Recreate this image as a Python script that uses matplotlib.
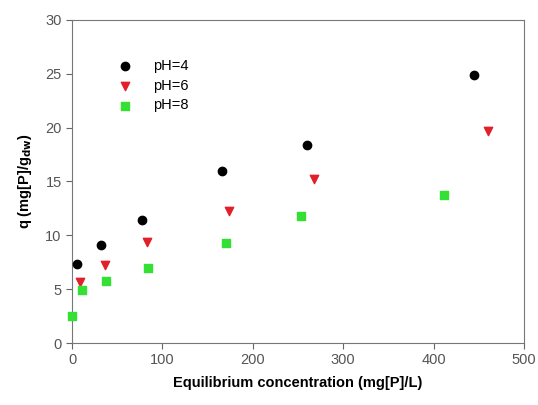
import matplotlib
matplotlib.use("Agg")
import matplotlib.pyplot as plt

plt.rcParams['font.family'] = ['Liberation Sans', 'DejaVu Sans']

# data
ph4_x = [5, 32, 77, 166, 260, 445]
ph4_y = [7.3, 9.1, 11.4, 16.0, 18.4, 24.9]
ph6_x = [9, 36, 83, 174, 268, 460]
ph6_y = [5.7, 7.2, 9.4, 12.3, 15.2, 19.7]
ph8_x = [0, 11, 38, 84, 170, 253, 411]
ph8_y = [2.5, 4.9, 5.8, 7.0, 9.3, 11.8, 13.7]

fig = plt.figure(figsize=(5.38, 4.05), dpi=100)
ax = fig.add_axes([0.134, 0.153, 0.840, 0.798])

ax.scatter(ph4_x, ph4_y, s=36, marker='o', color='black', label='pH=4', zorder=3, clip_on=False)
ax.scatter(ph6_x, ph6_y, s=36, marker='v', color='#e0202a', label='pH=6', zorder=3, clip_on=False)
ax.scatter(ph8_x, ph8_y, s=32, marker='s', color='#33e033', label='pH=8', zorder=3, clip_on=False)

ax.set_xlim(0, 500)
ax.set_ylim(0, 30)
ax.set_xticks([0, 100, 200, 300, 400, 500])
ax.set_yticks([0, 5, 10, 15, 20, 25, 30])
ax.tick_params(direction='out', length=4, colors='#666666', labelsize=10.5, labelcolor='#555555')
for sp in ax.spines.values():
    sp.set_color('#777777')

ax.set_xlabel('Equilibrium concentration (mg[P]/L)', fontweight='bold', fontsize=10.5, labelpad=6)
ax.set_ylabel('q (mg[P]/g$_{\\mathbf{dw}}$)', fontweight='bold', fontsize=10.5, labelpad=8)

ax.legend(loc='upper left', bbox_to_anchor=(0.056, 0.92), frameon=False, fontsize=10.5,
          handletextpad=0.9, labelspacing=0.4)

fig.savefig('out.png', dpi=100)
